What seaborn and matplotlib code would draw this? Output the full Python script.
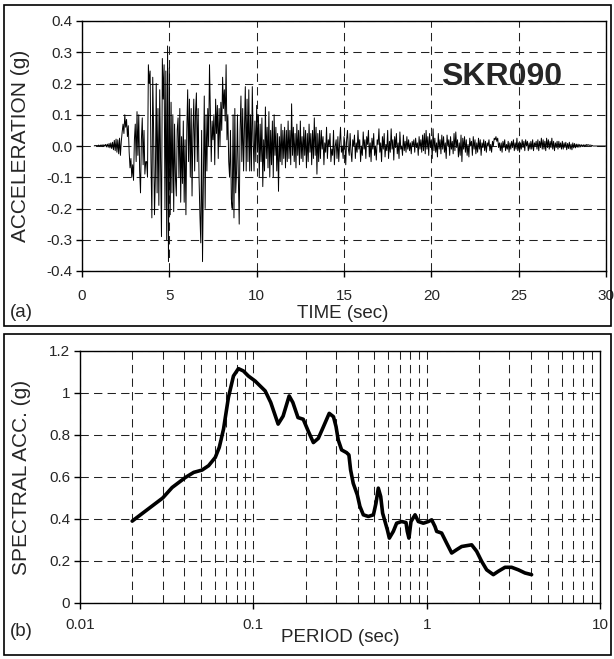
import numpy as np
import pandas as pd
import matplotlib
matplotlib.use("Agg")
import matplotlib.pyplot as plt
from matplotlib.patches import Rectangle
import seaborn as sns

# ground motion record SKR090, sampled every 0.05 s starting at 0.70 s
start_time = 0.70
time_step = 0.05
accel_g = [
    # 0.70 - 1.65
    0.0, 0.002, 0.0, 0.002, 0.0, 0.003, -0.001, 0.003, 0.0, 0.004,
    -0.002, 0.004, 0.0, 0.005, -0.003, 0.006, -0.004, 0.008, -0.006, 0.01,
    # 1.70 - 2.65
    -0.008, 0.012, -0.012, 0.018, -0.015, 0.022, -0.02, 0.02, -0.025, 0.025,
    -0.03, 0.015, 0.045, 0.07, 0.04, 0.1, 0.06, 0.085, 0.03, 0.065,
    # 2.70 - 3.65
    -0.02, -0.07, -0.04, -0.1, -0.06, -0.11, 0.02, 0.07, -0.05, 0.11,
    -0.03, 0.1, -0.08, -0.15, 0.02, 0.09, -0.06, 0.05, -0.09, -0.05,
    # 3.70 - 4.65
    -0.05, -0.1, 0.26, 0.2, 0.24, -0.05, -0.23, 0.22, 0.05, -0.22,
    -0.1, 0.2, -0.15, 0.12, -0.19, 0.18, -0.05, -0.29, 0.28, 0.15,
    # 4.70 - 5.65
    0.26, -0.2, 0.24, -0.3, 0.32, -0.37, 0.25, -0.22, 0.14, -0.15,
    0.1, -0.21, 0.07, -0.1, -0.16, 0.05, 0.09, -0.1, 0.12, -0.18,
    # 5.70 - 6.65
    0.03, -0.12, 0.08, -0.18, 0.02, -0.22, 0.05, 0.18, -0.05, 0.15,
    -0.1, 0.12, -0.16, 0.04, 0.15, -0.08, 0.11, 0.17, -0.05, 0.12,
    # 6.70 - 7.65
    -0.1, -0.22, -0.31, 0.05, -0.37, -0.1, 0.16, -0.2, 0.1, -0.08,
    0.12, 0.0, 0.26, 0.1, -0.05, 0.08, 0.02, 0.1, -0.06, 0.15,
    # 7.70 - 8.65
    0.04, 0.13, -0.04, 0.12, 0.0, 0.14, 0.05, 0.22, 0.12, 0.18,
    0.08, 0.26, 0.02, 0.1, -0.05, -0.1, 0.05, -0.17, -0.2, 0.1,
    # 8.70 - 9.65
    -0.23, 0.12, -0.15, -0.08, 0.1, -0.1, -0.25, 0.05, 0.16, -0.05,
    0.12, -0.08, 0.05, 0.19, -0.08, 0.15, -0.05, 0.18, -0.08, 0.1,
    # 9.70 - 10.65
    -0.08, 0.19, 0.02, -0.08, 0.08, -0.05, 0.13, -0.02, 0.1, -0.1,
    0.07, -0.05, 0.09, -0.13, 0.02, -0.08, 0.125, -0.04, 0.06, -0.07,
    # 10.70 - 11.65
    0.11, -0.1, 0.05, -0.06, 0.08, -0.1, 0.1, -0.03, 0.06, -0.08,
    0.04, -0.145, 0.03, -0.05, 0.07, -0.06, 0.05, -0.04, 0.06, -0.07,
    # 11.70 - 12.65
    0.05, -0.05, 0.08, -0.04, 0.05, -0.06, 0.135, -0.03, 0.06, -0.05,
    0.04, -0.07, 0.07, -0.03, 0.05, -0.06, 0.08, -0.04, 0.03, -0.05,
    # 12.70 - 13.65
    0.06, -0.03, 0.05, -0.07, 0.04, -0.05, 0.07, -0.02, 0.04, -0.06,
    0.05, -0.04, 0.09, -0.03, 0.06, -0.09, 0.04, -0.05, 0.05, -0.04,
    # 13.70 - 14.65
    0.05, -0.01, 0.03, -0.06, 0.01, -0.02, 0.06, -0.04, 0.02, 0.0,
    0.04, -0.05, -0.01, -0.03, 0.05, -0.06, 0.0, 0.02, -0.04, 0.03,
    # 14.70 - 15.65
    -0.05, 0.01, 0.06, -0.02, 0.0, -0.04, 0.03, 0.01, -0.06, 0.02,
    0.05, -0.01, -0.03, 0.04, -0.02, -0.05, 0.02, 0.0, 0.035, -0.04,
    # 15.70 - 16.65
    0.01, -0.02, 0.05, -0.01, 0.02, -0.05, 0.0, -0.03, 0.045, -0.01,
    0.02, -0.04, 0.03, 0.005, 0.05, -0.035, 0.01, -0.05, 0.025, -0.01,
    # 16.70 - 17.65
    0.04, -0.03, 0.0, -0.045, 0.02, 0.005, 0.055, -0.02, 0.01, -0.05,
    0.03, -0.01, 0.04, -0.035, 0.005, -0.015, 0.05, -0.04, 0.015, -0.02,
    # 17.70 - 18.65
    0.055, -0.01, 0.02, -0.045, 0.03, -0.005, 0.04, -0.025, 0.01, -0.04,
    0.045, -0.01, 0.0, -0.03, 0.035, -0.015, 0.015, -0.02, 0.03, -0.01,
    # 18.70 - 19.65
    0.02, -0.015, 0.01, -0.025, 0.015, 0.0, 0.02, -0.02, 0.025, -0.005,
    0.01, -0.03, 0.03, -0.01, 0.02, -0.02, 0.035, -0.015, 0.04, -0.025,
    # 19.70 - 20.65
    0.05, -0.01, 0.03, -0.03, 0.04, -0.005, 0.02, -0.04, 0.055, -0.015,
    0.025, -0.02, 0.01, -0.035, 0.04, -0.01, 0.02, -0.025, 0.035, -0.01,
    # 20.70 - 21.65
    0.03, -0.02, 0.01, -0.04, 0.035, 0.0, 0.02, -0.03, 0.03, -0.01,
    0.015, -0.025, 0.04, -0.015, 0.045, -0.005, 0.02, -0.035, 0.01, -0.03,
    # 21.70 - 22.65
    0.035, -0.05, 0.025, -0.01, 0.03, -0.02, 0.02, -0.03, 0.005, -0.035,
    0.025, 0.0, 0.015, -0.03, 0.03, -0.01, 0.02, -0.025, 0.01, -0.02,
    # 22.70 - 23.65
    0.025, -0.01, 0.02, -0.03, 0.01, -0.005, 0.02, -0.015, 0.015, -0.02,
    0.01, 0.0, 0.02, -0.015, 0.005, -0.02, 0.015, 0.0, 0.025, 0.02,
    # 23.70 - 24.65
    0.03, 0.015, 0.025, -0.005, 0.01, -0.015, 0.01, -0.02, 0.015, -0.005,
    0.02, -0.015, 0.005, -0.01, 0.015, -0.02, 0.01, -0.01, 0.015, -0.005,
    # 24.70 - 25.65
    0.02, -0.015, 0.01, -0.01, 0.025, -0.015, 0.01, -0.02, 0.01, -0.01,
    0.02, -0.005, 0.015, -0.015, 0.02, 0.0, 0.015, -0.015, 0.01, -0.01,
    # 25.70 - 26.65
    0.015, -0.01, 0.02, -0.015, 0.01, 0.0, 0.015, -0.01, 0.02, -0.015,
    0.015, -0.005, 0.025, -0.01, 0.02, -0.01, 0.015, -0.015, 0.025, -0.005,
    # 26.70 - 27.65
    0.02, -0.01, 0.015, -0.005, 0.025, -0.01, 0.015, -0.015, 0.01, -0.005,
    0.015, -0.01, 0.015, -0.005, 0.01, -0.01, 0.015, -0.01, 0.01, -0.005,
    # 27.70 - 28.65
    0.012, -0.012, 0.008, -0.008, 0.012, -0.01, 0.006, -0.012, 0.01, -0.006,
    0.008, -0.006, 0.006, -0.004, 0.006, -0.004, 0.005, -0.003, 0.004, -0.002,
    # 28.70 - 30.00
    0.004, -0.002, 0.004, 0.0, 0.005, 0.002, 0.004, 0.002, 0.003, 0.002,
    0.002, 0.0, 0.0, 0.0, 0.0, 0.0, 0.0, 0.0, 0.0, 0.0,
    0.0, 0.0, 0.0, 0.0, 0.0, 0.0, 0.0,
]

# 5% damped response spectrum
period_s = [0.02, 0.03, 0.034, 0.0406, 0.0453, 0.0506, 0.0552, 0.0603, 0.0636,
            0.0673, 0.0718, 0.0768, 0.082, 0.0876, 0.0936, 0.1024, 0.117,
            0.126, 0.139, 0.1485, 0.161, 0.169, 0.181, 0.194, 0.207, 0.222,
            0.237, 0.253, 0.274, 0.29, 0.3, 0.309, 0.323, 0.345, 0.356,
            0.364, 0.377, 0.398, 0.412, 0.431, 0.461, 0.493, 0.51, 0.526,
            0.543, 0.557, 0.575, 0.593, 0.609, 0.642, 0.671, 0.717, 0.76,
            0.773, 0.79, 0.812, 0.857, 0.895, 0.957, 1.022, 1.069, 1.117,
            1.142, 1.22, 1.304, 1.394, 1.49, 1.592, 1.7, 1.818, 1.943, 2.077,
            2.219, 2.424, 2.59, 2.832, 3.092, 3.38, 3.69, 4.03]
spectral_acc_g = [0.39, 0.50, 0.55, 0.598, 0.622, 0.633, 0.654, 0.693, 0.741,
                  0.828, 0.978, 1.081, 1.116, 1.105, 1.081, 1.057, 1.01,
                  0.955, 0.852, 0.89, 0.986, 0.955, 0.883, 0.875, 0.82, 0.764,
                  0.784, 0.837, 0.903, 0.887, 0.84, 0.776, 0.729, 0.716, 0.705,
                  0.634, 0.57, 0.515, 0.46, 0.42, 0.412, 0.42, 0.475, 0.547,
                  0.507, 0.428, 0.388, 0.349, 0.309, 0.341, 0.38, 0.388, 0.383,
                  0.341, 0.309, 0.388, 0.42, 0.388, 0.38, 0.388, 0.396, 0.364,
                  0.341, 0.333, 0.285, 0.238, 0.254, 0.269, 0.273, 0.277, 0.246,
                  0.198, 0.158, 0.135, 0.151, 0.17, 0.17, 0.158, 0.143, 0.135]

accel_ticks = [-0.4, -0.3, -0.2, -0.1, 0.0, 0.1, 0.2, 0.3, 0.4]
time_ticks = [0, 5, 10, 15, 20, 25, 30]
sa_ticks = [0, 0.2, 0.4, 0.6, 0.8, 1.0, 1.2]
sa_tick_labels = ['0', '0.2', '0.4', '0.6', '0.8', '1', '1.2']
period_ticks = [0.01, 0.1, 1, 10]
period_tick_labels = ['0.01', '0.1', '1', '10']

sns.set_style("ticks")
plt.rcParams['font.family'] = ['Liberation Sans', 'DejaVu Sans']

grid_kw = dict(color='#222222', linewidth=0.75, linestyle=(0, (8, 5)))

fig = plt.figure(figsize=(6.14, 6.59), dpi=100)

# frames around each panel
fig.add_artist(Rectangle((4 / 614, 1 - 326 / 659), 607 / 614, 321 / 659,
                         transform=fig.transFigure, fill=False,
                         edgecolor='black', linewidth=1.2))
fig.add_artist(Rectangle((4 / 614, 1 - 655 / 659), 607 / 614, 321 / 659,
                         transform=fig.transFigure, fill=False,
                         edgecolor='black', linewidth=1.2))

# ---- (a) acceleration time history
ax1 = fig.add_axes([82 / 614, 1 - 271 / 659, 524 / 614, 250 / 659])
df_acc = pd.DataFrame({'time': start_time + time_step * np.arange(len(accel_g)),
                       'acc': accel_g})
sns.lineplot(data=df_acc, x='time', y='acc', ax=ax1, color='black',
             linewidth=0.7, estimator=None)
ax1.set_xlim(0, 30)
ax1.set_ylim(-0.4, 0.4)
ax1.set_xticks(time_ticks)
ax1.set_xticklabels([str(t) for t in time_ticks])
ax1.set_yticks(accel_ticks)
ax1.set_yticklabels([f"{v:.1f}" for v in accel_ticks])
ax1.grid(True, **grid_kw)
ax1.set_axisbelow(True)
ax1.set_xlabel('TIME (sec)', fontsize=13.5)
ax1.set_ylabel('ACCELERATION (g)', fontsize=15)
ax1.xaxis.set_label_coords(0.498, -0.168)
ax1.xaxis.label.set_va('center')
ax1.yaxis.set_label_coords(-0.118, 0.5)
ax1.yaxis.label.set_va('center')
ax1.text(24.0, 0.22, 'SKR090', fontsize=23, fontweight='bold',
         ha='center', va='center')

# ---- (b) response spectrum
ax2 = fig.add_axes([80 / 614, 1 - 603 / 659, 520 / 614, 252 / 659])
df_sa = pd.DataFrame({'period': period_s, 'sa': spectral_acc_g})
sns.lineplot(data=df_sa, x='period', y='sa', ax=ax2, color='black',
             linewidth=2.6, estimator=None, sort=False)
ax2.set_xscale('log')
ax2.set_xlim(0.01, 10)
ax2.set_ylim(0, 1.2)
ax2.set_xticks(period_ticks)
ax2.set_xticklabels(period_tick_labels)
ax2.xaxis.set_minor_locator(matplotlib.ticker.LogLocator(base=10, subs=np.arange(2, 10)))
ax2.xaxis.set_minor_formatter(matplotlib.ticker.NullFormatter())
ax2.tick_params(axis='x', which='minor', length=0)
ax2.set_yticks(sa_ticks)
ax2.set_yticklabels(sa_tick_labels)
ax2.grid(True, which='both', axis='x', **grid_kw)
ax2.grid(True, which='major', axis='y', **grid_kw)
ax2.set_axisbelow(True)
ax2.set_xlabel('PERIOD (sec)', fontsize=13.5)
ax2.set_ylabel('SPECTRAL ACC. (g)', fontsize=15)
ax2.xaxis.set_label_coords(0.5, -0.137)
ax2.xaxis.label.set_va('center')
ax2.yaxis.set_label_coords(-0.112, 0.5)
ax2.yaxis.label.set_va('center')

for ax in (ax1, ax2):
    for side in ax.spines:
        ax.spines[side].set_visible(True)
        ax.spines[side].set_color('black')
        ax.spines[side].set_linewidth(1.0)
    ax.tick_params(axis='both', which='major', direction='out', length=4,
                   width=1.0, color='black', labelsize=11)
    ax.tick_params(axis='y', pad=3)
ax1.tick_params(axis='x', pad=9)
ax2.tick_params(axis='x', pad=7)

fig.text(10 / 614, 1 - 313 / 659, '(a)', fontsize=13.5, ha='left', va='center')
fig.text(10 / 614, 1 - 631 / 659, '(b)', fontsize=13.5, ha='left', va='center')

fig.savefig('out.png', dpi=100)
